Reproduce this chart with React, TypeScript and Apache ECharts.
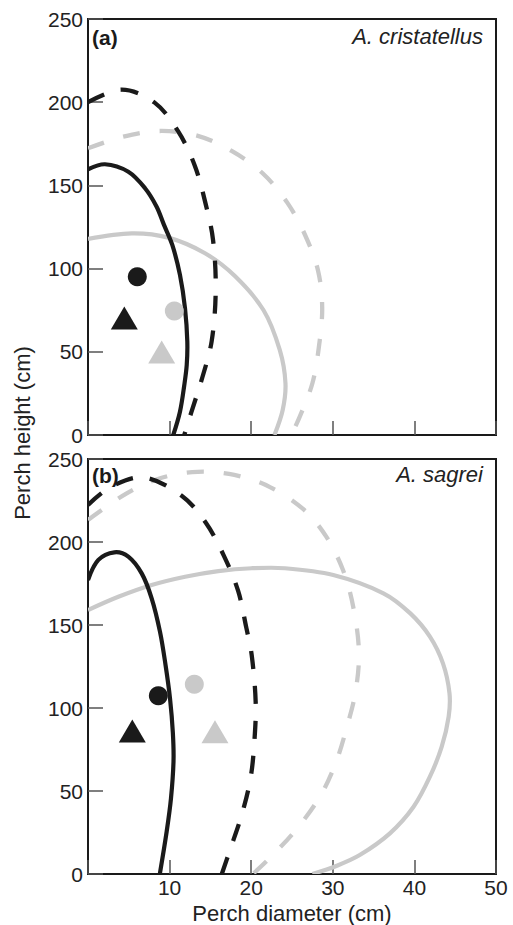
import React, { useEffect, useRef } from 'react';
import * as echarts from 'echarts';

// ---------- data ----------
const xTickValues = [0, 10, 20, 30, 40, 50];
const yTickValues = [0, 50, 100, 150, 200, 250];

// Panel (a) A. cristatellus — traced ellipse outlines [diameter, height]
const aSolidBlack = [[0, 159.6], [2.08, 162.7], [4.94, 158.2], [6.99, 148.3], [8.41, 137.2], [9.3, 126.4], [10.33, 114.2], [11.27, 96.2], [11.89, 76.1], [12.17, 56.1], [12.1, 42.1], [11.8, 30], [11.27, 14], [10.45, 0]];
const aDashedBlack = [[0, 200], [4.13, 207.5], [8.13, 199.9], [11.07, 182.3], [13.1, 161.7], [14.4, 139.2], [15.32, 117.4], [15.65, 87], [15.16, 56.5], [14.0, 34.4], [12.62, 13], [11.8, 0]];
const aSolidGray = [[0, 117.8], [5.35, 121.2], [9.85, 118.6], [14.34, 109.2], [18.0, 95.5], [21.5, 75.1], [23.5, 51.1], [24.2, 31.1], [23.86, 15], [22.85, 0]];
const aDashedGray = [[0, 172.3], [4.33, 179.3], [8.78, 182.7], [13.36, 179.9], [17.6, 170.7], [21.4, 157.3], [24.4, 139.8], [26.6, 120.2], [28.2, 98.6], [28.7, 76.3], [28.3, 53.1], [27.5, 31.1], [25.9, 10.4], [24.9, 0]];
const aBlackCircle = [[6.04, 95.1]];
const aBlackTriangle = [[4.45, 70.3]];
const aGrayCircle = [[10.58, 74.5]];
const aGrayTriangle = [[9.03, 49.9]];

// Panel (b) A. sagrei
const bSolidBlack = [[0, 177.1], [1.27, 189.2], [3.23, 193.8], [4.94, 191.2], [6.58, 181.1], [7.8, 166.1], [8.82, 146], [9.5, 126], [10.05, 105.8], [10.4, 85], [10.48, 68], [10.17, 45.6], [9.64, 25.5], [8.8, 0]];
const bDashedBlack = [[0, 222.3], [2.82, 233.3], [6.8, 238.9], [11.48, 227.9], [14.42, 211.8], [16.7, 191.2], [18.4, 170.5], [19.4, 148.4], [20.06, 131.9], [20.55, 103.4], [20.4, 80.7], [19.93, 58], [18.83, 35.5], [17.4, 14.5], [16.4, 0]];
const bSolidGray = [[0, 159], [3.72, 167], [7.8, 174.1], [11.9, 179.1], [15.97, 182.5], [20.06, 184.2], [24.14, 184.2], [30.06, 180.1], [36.2, 169.1], [39.5, 157], [41.9, 143], [43.5, 126.9], [44.3, 108.9], [44.2, 94.8], [43.35, 76.7], [41.9, 58.6], [39.9, 40.5], [37.0, 24.5], [33.3, 11.4], [30.5, 5], [27.5, 0]];
const bDashedGray = [[0, 213.3], [4.74, 229.3], [9.03, 238.7], [13.44, 242.3], [17.93, 240.4], [22.3, 233.1], [26.5, 219.3], [29.2, 203.2], [31.25, 183.1], [32.5, 161], [33.2, 134], [32.8, 110.2], [31.7, 88.1], [30.3, 66.1], [28.35, 46], [25.3, 25.5], [22.3, 9.8], [20.2, 0]];
const bBlackCircle = [[8.62, 107.4]];
const bBlackTriangle = [[5.43, 86.1]];
const bGrayCircle = [[13.03, 114.3]];
const bGrayTriangle = [[15.56, 85.7]];

const panelLabels = ['(a)', '(b)'];
const speciesLabels = ['A. cristatellus', 'A. sagrei'];
const xAxisTitle = 'Perch diameter (cm)';
const yAxisTitle = 'Perch height (cm)';

// ---------- styling ----------
const FONT = '"Liberation Sans", Arial, Helvetica, sans-serif';
const BLACK = '#1a1a1a';
const GRAY = '#c9c9c9';
const TEXT = '#222222';

// A smooth curve through the traced points, positioned with the axes' scales.
function curveSeries(name: string, data: number[][], color: string, dashed: boolean, idx: number) {
  const lineWidth = dashed ? 4.3 : 4.2;
  const lineDash = dashed ? (color === BLACK ? [18, 17] : [17, 20]) : null;
  return {
    type: 'custom',
    name,
    data,
    xAxisIndex: idx,
    yAxisIndex: idx,
    coordinateSystem: 'cartesian2d',
    encode: { x: 0, y: 1 },
    clip: true,
    silent: true,
    z: color === BLACK ? 4 : 3,
    renderItem: (params: any, api: any) => {
      if (params.dataIndex !== 0) return null;
      const pts = data.map((p) => api.coord(p));
      const cs = params.coordSys;
      return {
        type: 'group',
        clipPath: { type: 'rect', shape: { x: cs.x, y: cs.y, width: cs.width, height: cs.height } },
        children: [
          {
            type: 'polyline',
            shape: { points: pts, smooth: 0.34 },
            style: { stroke: color, lineWidth, lineDash, fill: null, lineCap: 'butt' },
            silent: true,
          },
        ],
      };
    },
  };
}

function pointSeries(name: string, data: number[][], color: string, symbol: string, idx: number) {
  return {
    type: 'scatter',
    name,
    data,
    xAxisIndex: idx,
    yAxisIndex: idx,
    symbol,
    symbolSize: symbol === 'circle' ? 19 : [27, 23],
    itemStyle: { color, opacity: 1 },
    silent: true,
    z: 6,
  };
}

function xAxis(gridIndex: number, showLabels: boolean) {
  return {
    type: 'value',
    gridIndex,
    min: xTickValues[0],
    max: xTickValues[xTickValues.length - 1],
    interval: xTickValues[1] - xTickValues[0],
    axisLine: { show: true, onZero: false, lineStyle: { color: BLACK, width: 2 } },
    axisTick: { show: true, inside: true, length: 14, lineStyle: { color: '#555', width: 1.5 } },
    splitLine: { show: false },
    axisLabel: {
      show: showLabels,
      margin: 3,
      fontSize: 21,
      color: TEXT,
      fontFamily: FONT,
      showMinLabel: true,
      showMaxLabel: true,
      formatter: (v: number) => (v === 0 ? '' : String(v)),
    },
    name: showLabels ? xAxisTitle : '',
    nameLocation: 'middle',
    nameGap: 28,
    nameTextStyle: { fontSize: 22, color: TEXT, fontFamily: FONT },
  };
}

function yAxis(gridIndex: number) {
  return {
    type: 'value',
    gridIndex,
    min: yTickValues[0],
    max: yTickValues[yTickValues.length - 1],
    interval: yTickValues[1] - yTickValues[0],
    axisLine: { show: true, onZero: false, lineStyle: { color: BLACK, width: 2 } },
    axisTick: { show: true, inside: true, length: 15, lineStyle: { color: '#555', width: 1.5 } },
    splitLine: { show: false },
    axisLabel: {
      show: true,
      margin: 5,
      fontSize: 21,
      color: TEXT,
      fontFamily: FONT,
      showMinLabel: true,
      showMaxLabel: true,
    },
  };
}

export default function App() {
  const ref = useRef<HTMLDivElement>(null);

  useEffect(() => {
    document.body.style.margin = '0';
    if (!ref.current) return;
    const chart = echarts.init(ref.current, null, { renderer: 'svg' });
    const option: any = {
      animation: false,
      backgroundColor: '#ffffff',
      grid: [
        { left: 88, top: 19, width: 408, height: 416, show: true, borderColor: BLACK, borderWidth: 2, outerBoundsMode: 'none' },
        { left: 88, top: 459, width: 408, height: 415, show: true, borderColor: BLACK, borderWidth: 2, outerBoundsMode: 'none' },
      ],
      xAxis: [xAxis(0, false), xAxis(1, true)],
      yAxis: [yAxis(0), yAxis(1)],
      series: [
        curveSeries('a solid gray', aSolidGray, GRAY, false, 0),
        curveSeries('a dashed gray', aDashedGray, GRAY, true, 0),
        curveSeries('a solid black', aSolidBlack, BLACK, false, 0),
        curveSeries('a dashed black', aDashedBlack, BLACK, true, 0),
        pointSeries('a black circle', aBlackCircle, BLACK, 'circle', 0),
        pointSeries('a black triangle', aBlackTriangle, BLACK, 'triangle', 0),
        pointSeries('a gray circle', aGrayCircle, GRAY, 'circle', 0),
        pointSeries('a gray triangle', aGrayTriangle, GRAY, 'triangle', 0),
        curveSeries('b solid gray', bSolidGray, GRAY, false, 1),
        curveSeries('b dashed gray', bDashedGray, GRAY, true, 1),
        curveSeries('b solid black', bSolidBlack, BLACK, false, 1),
        curveSeries('b dashed black', bDashedBlack, BLACK, true, 1),
        pointSeries('b black circle', bBlackCircle, BLACK, 'circle', 1),
        pointSeries('b black triangle', bBlackTriangle, BLACK, 'triangle', 1),
        pointSeries('b gray circle', bGrayCircle, GRAY, 'circle', 1),
        pointSeries('b gray triangle', bGrayTriangle, GRAY, 'triangle', 1),
      ],
      graphic: [
        { type: 'text', x: 92, y: 37, z: 10, style: { text: panelLabels[0], fontSize: 21, fontWeight: 'bold', fontFamily: FONT, fill: BLACK, align: 'left', verticalAlign: 'middle' } },
        { type: 'text', x: 483, y: 36, z: 10, style: { text: speciesLabels[0], fontSize: 22, fontStyle: 'italic', fontFamily: FONT, fill: TEXT, align: 'right', verticalAlign: 'middle' } },
        { type: 'text', x: 92, y: 475, z: 10, style: { text: panelLabels[1], fontSize: 21, fontWeight: 'bold', fontFamily: FONT, fill: BLACK, align: 'left', verticalAlign: 'middle' } },
        { type: 'text', x: 483, y: 474, z: 10, style: { text: speciesLabels[1], fontSize: 22, fontStyle: 'italic', fontFamily: FONT, fill: TEXT, align: 'right', verticalAlign: 'middle' } },
        { type: 'text', x: 22, y: 433, rotation: Math.PI / 2, z: 10, style: { text: yAxisTitle, fontSize: 22, fontFamily: FONT, fill: TEXT, align: 'center', verticalAlign: 'middle' } },
      ],
    };
    chart.setOption(option);
    return () => chart.dispose();
  }, []);

  return <div ref={ref} style={{ width: 513, height: 925 }} />;
}
